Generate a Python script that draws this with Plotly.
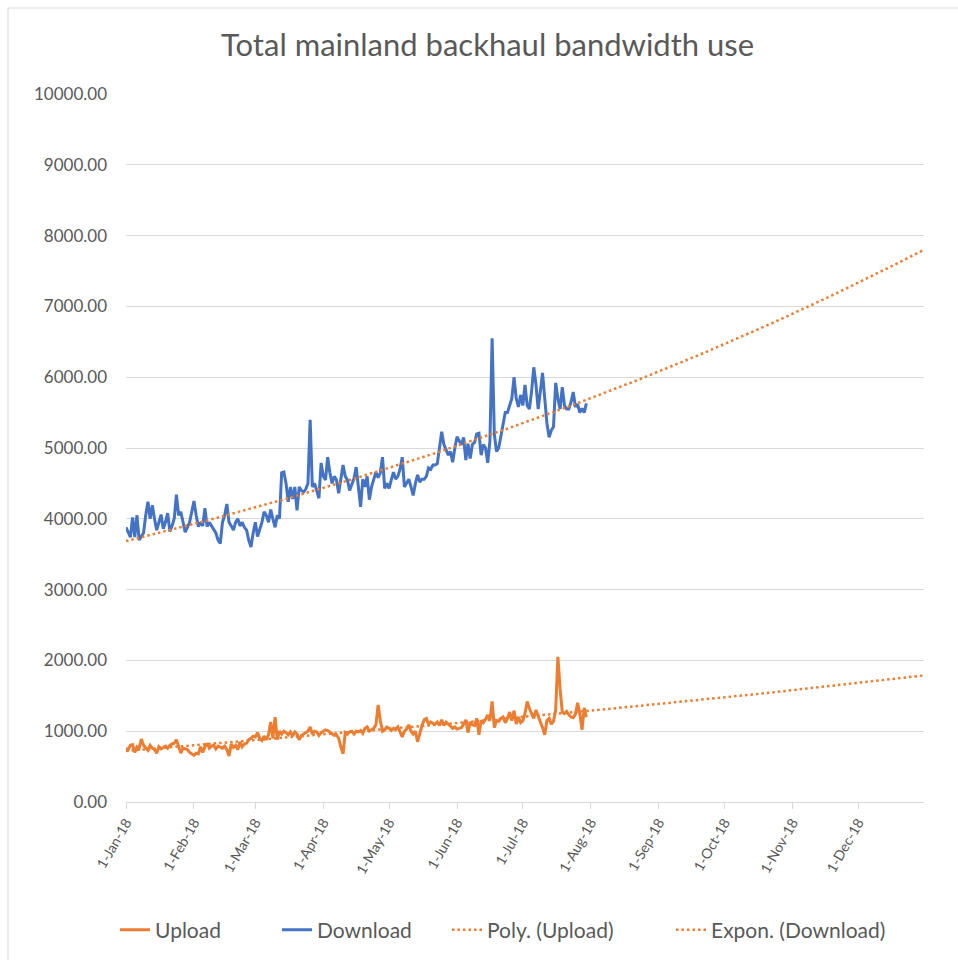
import numpy as np
import pandas as pd
import plotly.graph_objects as go

title_text = "Total mainland backhaul bandwidth use"
start_date = "2018-01-01"
end_date = "2018-12-31"

download = [
    3880, 3820, 3740, 4020, 3740, 4050, 3700, 3750, 3800, 4050,
    4240, 4000, 4190, 4000, 3840, 3950, 4060, 3860, 3950, 4080,
    3820, 3900, 4000, 4340, 4050, 4100, 3950, 3810, 3880, 3950,
    4100, 4250, 4050, 3890, 3950, 3900, 4150, 3890, 3950, 3900,
    3850, 3800, 3700, 3650, 3950, 4050, 4210, 3950, 3900, 3840,
    3950, 4000, 3900, 3950, 3880, 3840, 3700, 3600, 3800, 3950,
    3750, 3850, 3950, 4100, 4050, 3950, 4130, 4000, 3880, 4050,
    4000, 4650, 4660, 4500, 4240, 4450, 4280, 4450, 4120, 4450,
    4400, 4380, 4420, 4500, 5400, 4450, 4500, 4400, 4290, 4790,
    4600, 4550, 4870, 4650, 4500, 4600, 4550, 4360, 4550, 4760,
    4600, 4550, 4400, 4500, 4570, 4730, 4400, 4170, 4560, 4450,
    4600, 4270, 4450, 4550, 4660, 4580, 4650, 4870, 4430, 4500,
    4430, 4550, 4660, 4560, 4600, 4700, 4870, 4450, 4500, 4560,
    4450, 4330, 4500, 4620, 4520, 4560, 4560, 4600, 4720, 4700,
    4760, 4760, 4780, 5000, 5230, 5050, 4970, 4900, 4950, 4800,
    5000, 5160, 5100, 5050, 5150, 4830, 5060, 4850, 5050, 5080,
    5200, 5210, 4900, 5050, 5000, 4790, 5100, 6550, 5200, 4950,
    5000, 5150, 5300, 5500, 5500, 5600, 5700, 6000, 5700, 5580,
    5750, 5600, 5890, 5600, 5550, 5800, 6140, 5900, 5550, 5800,
    6060, 5700, 5350, 5150, 5250, 5300, 5920, 5700, 5550, 5860,
    5600, 5550, 5550, 5650, 5790, 5580, 5620, 5500, 5560, 5500,
    5630,
]

upload = [
    760, 740, 800, 810, 700, 780, 760, 890, 800, 760,
    730, 800, 760, 740, 690, 780, 750, 770, 790, 760,
    800, 820, 830, 880, 780, 690, 760, 750, 740, 700,
    680, 660, 690, 680, 780, 700, 780, 830, 760, 790,
    800, 750, 790, 770, 760, 790, 740, 650, 820, 770,
    800, 740, 850, 780, 820, 830, 880, 900, 930, 920,
    980, 900, 870, 930, 880, 950, 1130, 900, 1200, 880,
    1000, 960, 1000, 980, 950, 990, 930, 990, 960, 880,
    940, 960, 980, 1000, 1060, 960, 1000, 990, 940, 980,
    1000, 1020, 1010, 990, 960, 940, 950, 900, 780, 680,
    980, 960, 990, 1000, 960, 1000, 990, 1010, 970, 1040,
    1060, 1000, 1020, 1040, 1090, 1370, 1150, 1000, 1020, 1060,
    1040, 1010, 1040, 1020, 1060, 1000, 920, 1000, 1030, 1090,
    1000, 960, 1000, 850, 980, 1080, 1160, 1180, 1100, 1130,
    1110, 1100, 1130, 1080, 1160, 1080, 1130, 1100, 1070, 1040,
    1060, 1030, 1040, 1050, 1100, 1160, 980, 1130, 1090, 1080,
    1180, 950, 1150, 1120, 1170, 1230, 1150, 1420, 1050, 1150,
    1140, 1180, 1200, 1120, 1180, 1270, 1150, 1290, 1100, 1200,
    1120, 1150, 1250, 1420, 1320, 1260, 1180, 1300, 1200, 1130,
    1050, 950, 1150, 1180, 1100, 1140, 1300, 2050, 1600, 1270,
    1250, 1280, 1230, 1200, 1190, 1240, 1400, 1250, 1020, 1330,
    1200,
]

y_ticks = [0, 1000, 2000, 3000, 4000, 5000, 6000, 7000, 8000, 9000, 10000]

dates = pd.date_range(start_date, periods=len(download), freq="D")
full_dates = pd.date_range(start_date, end_date, freq="D")
d = np.arange(len(download))
d_full = np.arange(len(full_dates))

# Excel-style trendlines derived from the data
exp_coef = np.polyfit(d, np.log(np.array(download, dtype=float)), 1)
exp_trend = np.exp(np.polyval(exp_coef, d_full))
poly_coef = np.polyfit(d, np.array(upload, dtype=float), 3)
poly_trend = np.polyval(poly_coef, d_full)

ORANGE = "#ED7D31"
BLUE = "#4472C4"
TXT = "#595959"
GRID = "#D9D9D9"
FONT = "Lato, 'Open Sans', sans-serif"

fig = go.Figure()
fig.add_trace(go.Scatter(x=dates, y=upload, mode="lines", name="Upload",
                         line=dict(color=ORANGE, width=3), legend="legend"))
fig.add_trace(go.Scatter(x=dates, y=download, mode="lines", name="Download",
                         line=dict(color=BLUE, width=3), legend="legend2"))
fig.add_trace(go.Scatter(x=full_dates, y=poly_trend, mode="lines", name="Poly. (Upload)",
                         line=dict(color=ORANGE, width=2.5, dash="2.5px,3px"), legend="legend3"))
fig.add_trace(go.Scatter(x=full_dates, y=exp_trend, mode="lines", name="Expon. (Download)",
                         line=dict(color=ORANGE, width=2.5, dash="2.5px,3px"), legend="legend4"))


def legend_at(px_left):
    return dict(orientation="h", x=(px_left - 126) / 798, xanchor="left",
                y=(802 - 930) / 708, yanchor="middle",
                font=dict(size=21, color=TXT), itemwidth=30,
                bgcolor="rgba(0,0,0,0)")


fig.update_layout(
    width=958, height=960,
    margin=dict(l=126, r=34, t=94, b=158, autoexpand=False),
    paper_bgcolor="white", plot_bgcolor="white",
    font=dict(family=FONT, color=TXT, size=15),
    title=dict(text=title_text, x=0.509, xref="container", xanchor="center",
               y=1 - 45 / 960, yref="container", yanchor="middle",
               font=dict(size=31, color=TXT, family=FONT)),
    showlegend=True,
    legend=legend_at(115),
    legend2=legend_at(277),
    legend3=legend_at(447),
    legend4=legend_at(671),
    xaxis=dict(type="date", range=[start_date, end_date],
               tickmode="linear", tick0=start_date, dtick="M1",
               tickformat="%-d-%b-%y", tickangle=-60,
               showgrid=False, showline=True, linecolor=GRID, linewidth=1,
               ticks="outside", ticklen=6, tickcolor=GRID,
               tickfont=dict(size=14, color=TXT), zeroline=False,
               automargin=False),
    yaxis=dict(range=[0, 10000], tickvals=y_ticks, tickformat=".2f",
               showgrid=True, gridcolor=GRID, gridwidth=1, zeroline=False,
               showline=False, ticks="", ticklabelstandoff=18,
               tickfont=dict(size=17, color=TXT), automargin=False),
    shapes=[dict(type="rect", xref="paper", yref="paper",
                 x0=(8 - 126) / 798, x1=(990 - 126) / 798,
                 y0=(802 - 990) / 708, y1=(802 - 8) / 708,
                 line=dict(color=GRID, width=1), fillcolor="rgba(0,0,0,0)", layer="below")],
)

fig.write_html("out.html")
